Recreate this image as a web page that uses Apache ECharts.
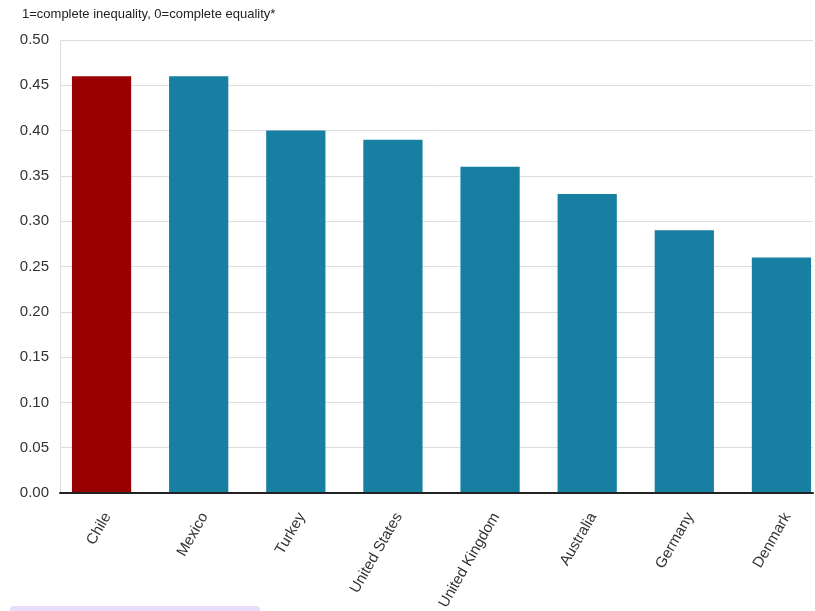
<!DOCTYPE html>
<html><head><meta charset="utf-8">
<script src="https://cdn.jsdelivr.net/npm/echarts@6/dist/echarts.min.js"></script>
<style>html,body{margin:0;padding:0;background:#fff}#c{width:815px;height:611px}</style>
</head><body><div id="c"></div>
<script>
const categories = ['Chile','Mexico','Turkey','United States','United Kingdom','Australia','Germany','Denmark'];
const giniValues = [0.46,0.46,0.40,0.39,0.36,0.33,0.29,0.26];
const highlightCountry = 'Chile';
const subtitle = '1=complete inequality, 0=complete equality*';

const chart = echarts.init(document.getElementById('c'), null, {renderer:'canvas'});
const font = 'Liberation Sans, Arial, sans-serif';
chart.setOption({
  animation:false,
  backgroundColor:'#fff',
  title:{text:subtitle,left:17,top:3,textStyle:{fontSize:13,fontWeight:'normal',color:'#222',fontFamily:font}},
  graphic:[{type:'rect',shape:{x:10,y:606,width:250,height:10,r:4},style:{fill:'#e9dcfb'},silent:true}],
  grid:[
    {left:60,right:2,top:40,bottom:118,outerBoundsMode:'none',containLabel:false},
    {left:53,width:777,top:40,bottom:118,outerBoundsMode:'none',containLabel:false},
    {left:59,width:777,top:40,bottom:118,outerBoundsMode:'none',containLabel:false}
  ],
  xAxis:[
    {type:'category',gridIndex:0,data:categories,axisLine:{show:true,lineStyle:{color:'#222',width:2}},axisTick:{show:false},axisLabel:{show:false},z:10},
    {type:'category',gridIndex:1,data:categories,axisLine:{show:false},axisTick:{show:false},axisLabel:{show:false}},
    {type:'category',gridIndex:2,data:categories,axisLine:{show:false},axisTick:{show:false},
      axisLabel:{rotate:60,margin:21,fontSize:15,color:'#333',fontFamily:font}}
  ],
  yAxis:[
    {type:'value',gridIndex:0,min:0,max:0.5,interval:0.05,
      axisLine:{show:true,lineStyle:{color:'#ddd'}},axisTick:{show:false},
      axisLabel:{formatter:v=>v.toFixed(2),fontSize:15,color:'#333',margin:11,fontFamily:font},
      splitLine:{lineStyle:{color:'#ddd'}}},
    {type:'value',gridIndex:1,min:0,max:0.5,interval:0.05,show:false,splitLine:{show:false}},
    {type:'value',gridIndex:2,min:0,max:0.5,interval:0.05,show:false,splitLine:{show:false}}
  ],
  series:[{
    type:'bar',xAxisIndex:1,yAxisIndex:1,barCategoryGap:'39%',
    data:giniValues.map((v,i)=>({value:v,itemStyle:{color:categories[i]===highlightCountry?'#990000':'#177fa1'}}))
  }]
});
</script></body></html>
